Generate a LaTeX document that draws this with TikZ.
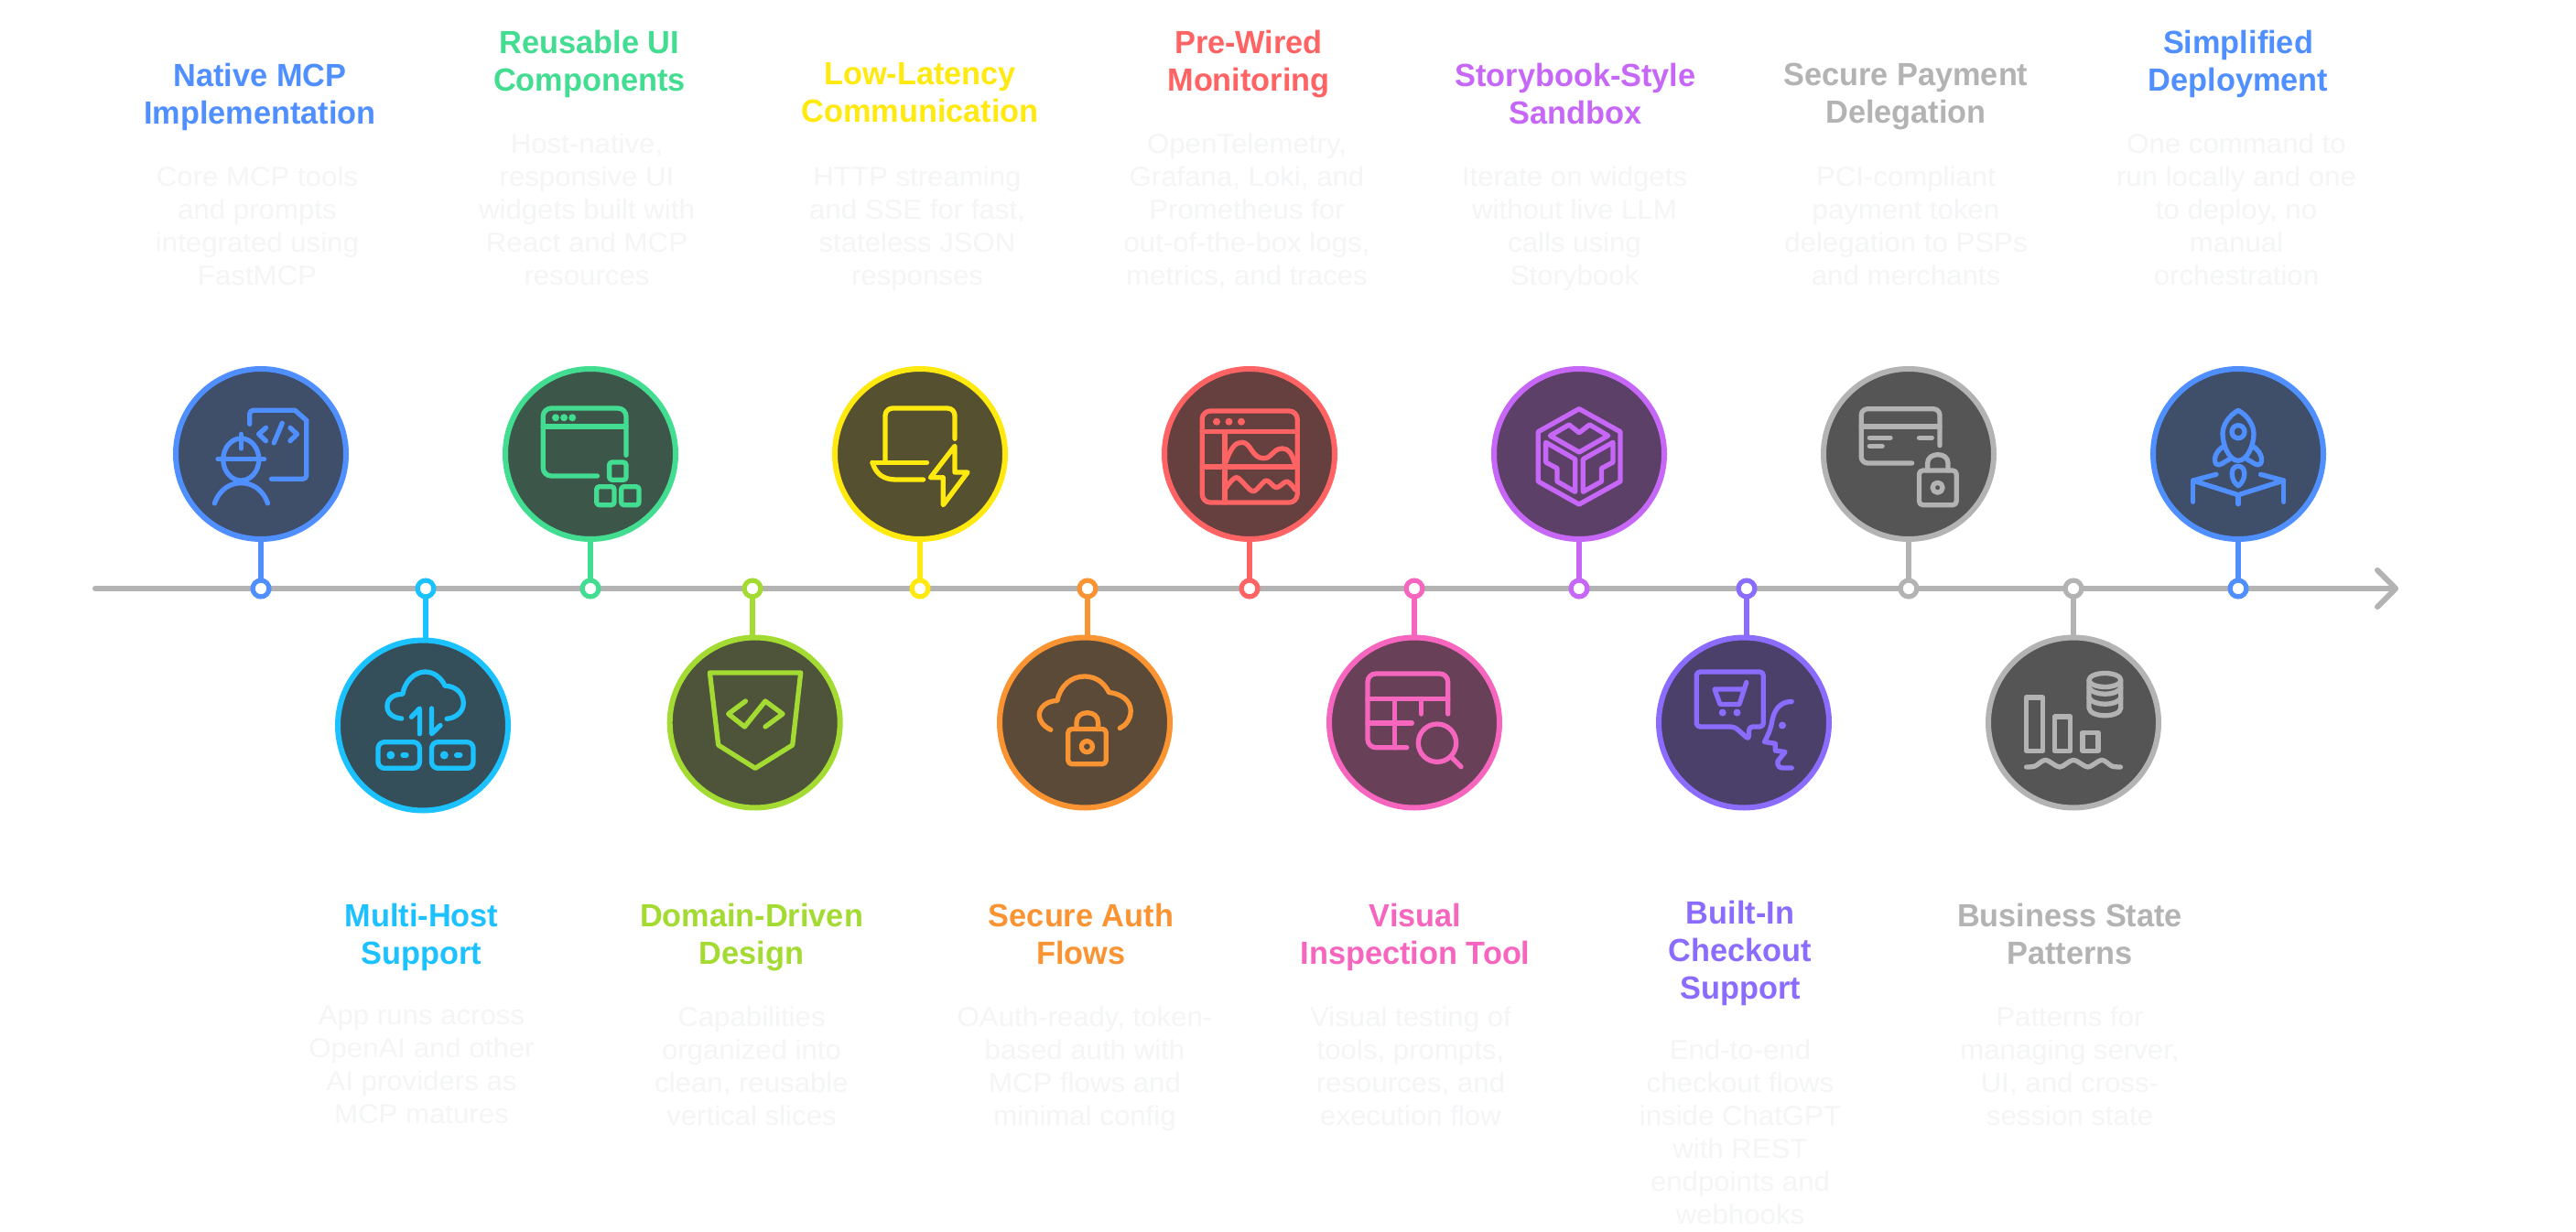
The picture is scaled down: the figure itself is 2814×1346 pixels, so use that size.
\documentclass[tikz,border=0pt]{standalone}
\usepackage{fontspec}
\setmainfont{Liberation Sans}
\newfontfamily\headfam{Liberation Sans}[FakeStretch=0.98]
\newfontfamily\bodyfam{Liberation Sans}[FakeStretch=1.04]
\usetikzlibrary{arrows.meta}
\definecolor{cBlue}{HTML}{4F8FFF}\definecolor{fBlue}{HTML}{3F4E69}
\definecolor{cCyan}{HTML}{1CC1FF}\definecolor{fCyan}{HTML}{344F5A}
\definecolor{cGreen}{HTML}{42DD91}\definecolor{fGreen}{HTML}{3C5749}
\definecolor{cLime}{HTML}{A4DB32}\definecolor{fLime}{HTML}{4E543A}
\definecolor{cYellow}{HTML}{FFE90F}\definecolor{fYellow}{HTML}{555030}
\definecolor{cOrange}{HTML}{FA9432}\definecolor{fOrange}{HTML}{5C4A38}
\definecolor{cRed}{HTML}{FF6363}\definecolor{fRed}{HTML}{663F3F}
\definecolor{cPink}{HTML}{F766BE}\definecolor{fPink}{HTML}{684058}
\definecolor{cPurple}{HTML}{C667F7}\definecolor{fPurple}{HTML}{5D4068}
\definecolor{cViolet}{HTML}{8B6CFF}\definecolor{fViolet}{HTML}{4B4069}
\definecolor{cGray}{HTML}{B3B3B3}\definecolor{fGray}{HTML}{555555}
\definecolor{cBody}{HTML}{F4F5F6}
\tikzset{
  hub/.style 2 args={circle,minimum size=186pt,inner sep=0pt,outer sep=0pt,line width=6pt,draw=#1,fill=#2},
  pin/.style={circle,minimum size=17.8pt,inner sep=0pt,outer sep=0pt,line width=5.2pt,draw=#1,fill=white},
  link/.style={line width=5.4pt,draw=#1},
  ico/.style={line width=5.3pt,line cap=round,line join=round,color=#1},
  headtext/.style={anchor=north,inner sep=0pt,outer sep=0pt,align=center,font=\headfam\fontsize{35}{41}\bfseries\selectfont,execute at begin node=\strut},
  bodytext/.style={anchor=north,inner sep=0pt,outer sep=0pt,align=center,text=cBody,font=\bodyfam\fontsize{30}{36}\selectfont,execute at begin node=\strut}
}
\newcommand{\ttl}[5]{\node[headtext,text=#2] (#1) at (#3,{#4-25.2}) {#5};}
\newcommand{\bod}[4]{\node[bodytext] (#1) at (#2,{#3-21.7}) {#4};}
\begin{document}
\begin{tikzpicture}[x=1pt,y=-1pt]
\path[use as bounding box,fill=white] (0,0) rectangle (2814,1346);
% spine
\coordinate (spineA) at (104,643);
\coordinate (spineB) at (2620,643);
\draw[line width=6pt,draw=cGray,line cap=round,-{Straight Barb[length=20pt,width=40pt,line width=6pt,round]}] (spineA) -- (spineB);
% pins
\node[pin=cBlue] (d1) at (285,643) {};
\node[pin=cCyan] (d2) at (465,643) {};
\node[pin=cGreen] (d3) at (645,643) {};
\node[pin=cLime] (d4) at (822,643) {};
\node[pin=cYellow] (d5) at (1005,643) {};
\node[pin=cOrange] (d6) at (1188,643) {};
\node[pin=cRed] (d7) at (1365,643) {};
\node[pin=cPink] (d8) at (1545,643) {};
\node[pin=cPurple] (d9) at (1725,643) {};
\node[pin=cViolet] (d10) at (1908,643) {};
\node[pin=cGray] (d11) at (2085,643) {};
\node[pin=cGray] (d12) at (2265,643) {};
\node[pin=cBlue] (d13) at (2445,643) {};
% hubs
\node[hub={cBlue}{fBlue}] (c1) at (285,496) {};
\node[hub={cCyan}{fCyan}] (c2) at (462,792.5) {};
\node[hub={cGreen}{fGreen}] (c3) at (645,496) {};
\node[hub={cLime}{fLime}] (c4) at (824.7,789.5) {};
\node[hub={cYellow}{fYellow}] (c5) at (1005,496) {};
\node[hub={cOrange}{fOrange}] (c6) at (1185,789.5) {};
\node[hub={cRed}{fRed}] (c7) at (1365,496) {};
\node[hub={cPink}{fPink}] (c8) at (1545,789.5) {};
\node[hub={cPurple}{fPurple}] (c9) at (1725,496) {};
\node[hub={cViolet}{fViolet}] (c10) at (1905,789.5) {};
\node[hub={cGray}{fGray}] (c11) at (2085,496) {};
\node[hub={cGray}{fGray}] (c12) at (2265,789.5) {};
\node[hub={cBlue}{fBlue}] (c13) at (2445,496) {};
% connectors
\draw[link=cBlue] (c1) -- (d1);
\draw[link=cCyan] (d2) -- (d2 |- c2.north);
\draw[link=cGreen] (c3) -- (d3);
\draw[link=cLime] (d4) -- (d4 |- c4.north);
\draw[link=cYellow] (c5) -- (d5);
\draw[link=cOrange] (d6) -- (d6 |- c6.north);
\draw[link=cRed] (c7) -- (d7);
\draw[link=cPink] (c8) -- (d8);
\draw[link=cPurple] (c9) -- (d9);
\draw[link=cViolet] (d10) -- (d10 |- c10.north);
\draw[link=cGray] (c11) -- (d11);
\draw[link=cGray] (c12) -- (d12);
\draw[link=cBlue] (c13) -- (d13);
% icon 1: engineer and code file
\begin{scope}[shift={(c1.center)},ico=cBlue]
\draw[rounded corners=4pt] (-12.3,-32.7) -- (-12.3,-47.7) -- (37.2,-47.7);
\draw (37.2,-47.7) -- (49.8,-36.7);
\draw[rounded corners=4pt] (49.8,-36.7) -- (49.8,27.3) -- (11.5,27.3);
\draw (5.5,-28.7) -- (-2.4,-21.7) -- (5.5,-14.3);
\draw (23.3,-33.7) -- (14.2,-12);
\draw (32,-28.7) -- (39.5,-21.7) -- (32,-14.3);
\draw (-21.7,6) ellipse [x radius=19.5pt,y radius=23pt];
\draw (-47,5.7) -- (3.6,5.7);
\draw (-21.7,-21.7) -- (-21.7,-6);
\draw (-50.6,54) .. controls (-45,38) and (-33,31.7) .. (-21.7,31.7) .. controls (-10,31.7) and (2,38) .. (7.5,54);
\end{scope}
% icon 2: cloud and hosts
\begin{scope}[shift={(c2.center)},ico=cCyan]
\draw (-23.3,-7.5) .. controls (-32,-8) and (-39.1,-13) .. (-39.1,-20.8) .. controls (-39.1,-29) and (-32,-34.2) .. (-22.1,-34.2) .. controls (-20,-48) and (-9,-58.5) .. (2.4,-58.5) .. controls (12,-58.5) and (20,-52) .. (24.1,-43.2) .. controls (36,-43) and (44.3,-35) .. (44.3,-24.2) .. controls (44.3,-15) and (36,-8) .. (26.1,-7.2);
\draw (-3.6,9.2) -- (-3.6,-18.5) -- (-12.6,-9.2);
\draw (9.5,-18.5) -- (9.5,9.2) -- (19,0);
\draw[rounded corners=7pt] (-49,18.2) rectangle (-3.6,46.8);
\draw[rounded corners=7pt] (9.5,18.2) rectangle (55,46.8);
\fill (-35.2,32.5) circle[radius=4.5pt];
\fill (23.3,32.5) circle[radius=4.5pt];
\draw (-22,32.5) -- (-18,32.5);
\draw (36.7,32.5) -- (40.7,32.5);
\end{scope}
% icon 3: window and blocks
\begin{scope}[shift={(c3.center)},ico=cGreen]
\draw[rounded corners=9pt] (39,1.3) -- (39,-50) -- (-51.8,-50) -- (-51.8,24) -- (7.5,24);
\draw (-51.8,-30) -- (39,-30);
\fill (-38,-39.7) circle[radius=4pt] (-28.9,-39.7) circle[radius=4pt] (-19.8,-39.7) circle[radius=4pt];
\draw[rounded corners=3pt] (20.6,9) rectangle (39,28.3);
\draw[rounded corners=3pt] (6.7,35.7) rectangle (26,55.7);
\draw[rounded corners=3pt] (33.6,35.7) rectangle (53,55.7);
\end{scope}
% icon 4: shield with code
\begin{scope}[shift={(c4.center)},ico=cLime]
\draw (-49.3,-54.5) -- (50,-54.5) -- (41,24.5) -- (0.3,49.8) -- (-40,24.5) -- cycle;
\draw (-10.3,-23.5) -- (-29,-9.5) -- (-11.3,4.5) -- (11.3,-23.5) -- (30.3,-9.5) -- (11.3,4.5);
\end{scope}
% icon 5: laptop and bolt
\begin{scope}[shift={(c5.center)},ico=cYellow]
\draw[rounded corners=8pt] (-38,7.3) -- (-38,-50) -- (38,-50) -- (38,-16.7);
\draw (-52,9.3) -- (7.5,9.3);
\draw (-52,9.3) .. controls (-48,22) and (-40,28) .. (-26,28) -- (3.6,28);
\draw (38,-8.7) -- (11.5,25.7) -- (25.3,25.7) -- (25.3,55.7) -- (52,20) -- (38,20) -- cycle;
\end{scope}
% icon 6: cloud and lock
\begin{scope}[shift={(c6.center)},ico=cOrange]
\draw (-37.2,7.8) .. controls (-45,4) and (-49.8,-2) .. (-49.8,-8.2) .. controls (-49.8,-17) and (-41,-24) .. (-30,-24) .. controls (-27,-40) and (-15,-50.5) .. (-0.4,-50.5) .. controls (12,-50.5) and (21,-44) .. (26.5,-33) .. controls (39,-32) and (50.2,-24) .. (50.2,-13) .. controls (50.2,-4) and (45,3) .. (38.3,6);
\draw[rounded corners=4pt] (-18.2,7) rectangle (23.3,45.2);
\draw (-9,7) -- (-9,0) .. controls (-9,-7) and (-4,-10.8) .. (2.8,-10.8) .. controls (9.5,-10.8) and (14.6,-7) .. (14.6,0) -- (14.6,7);
\draw (2.4,26.2) circle[radius=6pt];
\end{scope}
% icon 7: dashboard
\begin{scope}[shift={(c7.center)},ico=cRed]
\draw[rounded corners=9pt] (-51.8,-47) rectangle (52.2,53);
\draw (-51.8,-24.3) -- (52.2,-24.3);
\draw (-51.8,14) -- (52.2,14);
\draw (-26.9,-24.3) -- (-26.9,53);
\fill (-36,-35.3) circle[radius=4pt] (-22.5,-35.3) circle[radius=4pt] (-9,-35.3) circle[radius=4pt];
\draw (-26,9) .. controls (-20,-8) and (-15,-12.7) .. (-8.3,-12.7) .. controls (2,-12.7) and (2,4.7) .. (15.4,4.7) .. controls (25,4.7) and (25,-6) .. (36,-6) .. controls (43,-6) and (46,0) .. (49,9);
\draw plot[smooth] coordinates {(-26,37.3) (-14,25.7) (3.6,40.7) (18,29) (29.2,36.7) (41,30) (49.8,39)};
\end{scope}
% icon 8: table and magnifier
\begin{scope}[shift={(c8.center)},ico=cPink]
\draw[rounded corners=9pt] (36.7,-9.5) -- (36.7,-53.5) -- (-51,-53.5) -- (-51,27.2) -- (-8.3,27.2);
\draw (-51,-26) -- (36.7,-26);
\draw (-51,0.5) -- (-2.7,0.5);
\draw (-21.7,-26) -- (-21.7,27.2);
\draw (7.7,-26) -- (7.7,-9.5);
\draw (25,22.2) circle[radius=20.7pt];
\draw (41.7,38.8) -- (51,48.2);
\end{scope}
% icon 9: cube
\begin{scope}[shift={(c9.center)},ico=cPurple]
\draw (0,-49.3) -- (45,-24.3) -- (45,30) -- (0,55) -- (-44.7,30) -- (-44.7,-24.3) -- cycle;
\draw (0,-2) -- (31.6,-20) -- (11.5,-32) -- (0,-23.3) -- (-11,-32) -- (-31.6,-20) -- cycle;
\draw (-36.4,-12.7) -- (-4.3,5.7) -- (-4.3,41.3) -- (-24,30) -- (-24,15.7) -- (-36.4,9) -- cycle;
\draw (37,-12.7) -- (4.3,5.7) -- (4.3,41.3) -- (24.5,30) -- (24.5,15.7) -- (37,9) -- cycle;
\end{scope}
% icon 10: secure card
\begin{scope}[shift={(c11.center)},ico=cGray]
\draw[rounded corners=7pt] (34,-9.3) -- (34,-49.3) -- (-51.8,-49.3) -- (-51.8,10) -- (3.6,10);
\draw (-51.8,-30) -- (34,-30);
\draw (-42.7,-17.7) -- (-20,-17.7);
\draw (-42.7,-8.7) -- (-28.9,-8.7);
\draw (11.5,-17.7) -- (25.3,-17.7);
\draw[rounded corners=4pt] (11.5,18) rectangle (52.2,55.7);
\draw (20.6,18) -- (20.6,10) .. controls (20.6,4) and (26,0.7) .. (32,0.7) .. controls (38,0.7) and (43,4) .. (43,10) -- (43,18);
\draw (31.6,36.7) circle[radius=5.5pt];
\end{scope}
% icon 11: cart in speech bubble
\begin{scope}[shift={(c10.center)},ico=cViolet]
\draw[rounded corners=4pt] (-10.3,4.5) -- (-51.8,4.5) -- (-51.8,-55.5) -- (21.3,-55.5) -- (21.3,4.5) -- (5.5,4.5) -- (5.5,18.5) -- cycle;
\draw (2.8,-44) -- (-5,-20) -- (-26,-20) -- (-32,-36.5) -- (-0.4,-36.5);
\fill (-23.3,-11) circle[radius=4pt] (-7.5,-11) circle[radius=4pt] (42,3) circle[radius=4pt];
\draw (52.2,-23) .. controls (38,-23) and (33,-12) .. (31,-3) .. controls (30,6) and (26,14) .. (22.5,21) -- (34.3,22.8) -- (34.3,30.5) -- (45,32) -- (37,42) .. controls (36,47) and (39,49.5) .. (42,49.5) -- (52.2,49.5);
\end{scope}
% icon 12: bars and database
\begin{scope}[shift={(c12.center)},ico=cGray]
\draw (-51.4,-27.5) rectangle (-33.6,30.8);
\draw (-20.6,-6.5) rectangle (-3.2,30.8);
\draw (9.9,10.8) rectangle (26.9,30.8);
\draw (34.4,-46.5) ellipse [x radius=17.4pt,y radius=7.5pt];
\draw (17,-46.5) -- (17,-16) .. controls (18,-5) and (51,-5) .. (51.8,-16) -- (51.8,-46.5);
\draw (17,-38) .. controls (22,-29) and (47,-29) .. (51.8,-38);
\draw (17,-27) .. controls (22,-18) and (47,-18) .. (51.8,-27);
\draw plot[smooth] coordinates {(-51.4,48.5) (-42,47.5) (-30.4,40.8) (-15,48.5) (0,40.8) (15.8,48.5) (30.8,40.8) (42,47.5) (51.4,48.5)};
\end{scope}
% icon 13: rocket
\begin{scope}[shift={(c13.center)},ico=cBlue]
\draw (0,-47.7) .. controls (-10,-42) and (-17,-32) .. (-17,-22) .. controls (-17,-10) and (-10,7.3) .. (0,7.3) .. controls (10,7.3) and (17,-10) .. (17,-22) .. controls (17,-32) and (10,-42) .. cycle;
\draw (0,-24.3) circle[radius=7pt];
\draw (-15.4,-8.7) .. controls (-24,-4) and (-28,6) .. (-24,11) .. controls (-20,14) and (-15,8) .. (-9.5,5.7);
\draw (15.4,-8.7) .. controls (24,-4) and (28,6) .. (24,11) .. controls (20,14) and (15,8) .. (9.5,5.7);
\draw (0,13.3) .. controls (-10,13.3) and (-8,30) .. (0,34.7) .. controls (8,30) and (10,13.3) .. (0,13.3);
\draw (-24,22.3) -- (-49.6,29) -- (0,44.7) -- (49.8,29) -- (24.5,22.3);
\draw (-49.6,29) -- (-49.6,52.3);
\draw (49.8,29) -- (49.8,52.3);
\draw (0,44.7) -- (0,54.7);
\end{scope}
% titles and descriptions, top row
\ttl{t1}{cBlue}{284}{94}{Native MCP\\Implementation}
\bod{b1}{281}{203}{Core MCP tools\\and prompts\\integrated using\\FastMCP}
\ttl{t3}{cGreen}{644}{58}{Reusable UI\\Components}
\bod{b3}{641}{167}{Host-native,\\responsive UI\\widgets built with\\React and MCP\\resources}
\ttl{t5}{cYellow}{1005}{94}{Low-Latency\\Communication}
\bod{b5}{1002}{203}{HTTP streaming\\and SSE for fast,\\stateless JSON\\responses}
\ttl{t7}{cRed}{1364}{58}{Pre-Wired\\Monitoring}
\bod{b7}{1362}{167}{OpenTelemetry,\\Grafana, Loki, and\\Prometheus for\\out-of-the-box logs,\\metrics, and traces}
\ttl{t9}{cPurple}{1721}{94}{Storybook-Style\\Sandbox}
\bod{b9}{1720}{203}{Iterate on widgets\\without live LLM\\calls using\\Storybook}
\ttl{t11}{cGray}{2082}{94}{Secure Payment\\Delegation}
\bod{b11}{2082}{203}{PCI-compliant\\payment token\\delegation to PSPs\\and merchants}
\ttl{t13}{cBlue}{2445}{58}{Simplified\\Deployment}
\bod{b13}{2443}{167}{One command to\\run locally and one\\to deploy, no\\manual\\orchestration}
% titles and descriptions, bottom row
\ttl{t2}{cCyan}{460.5}{1012}{Multi-Host\\Support}
\bod{b2}{460.5}{1121}{App runs across\\OpenAI and other\\AI providers as\\MCP matures}
\ttl{t4}{cLime}{821}{1012}{Domain-Driven\\Design}
\bod{b4}{821}{1121}{Capabilities\\organized into\\clean, reusable\\vertical slices}
\ttl{t6}{cOrange}{1181}{1012}{Secure Auth\\Flows}
\bod{b6}{1185}{1121}{OAuth-ready, token-\\based auth with\\MCP flows and\\minimal config}
\ttl{t8}{cPink}{1546}{1012}{Visual\\Inspection Tool}
\bod{b8}{1541}{1121}{Visual testing of\\tools, prompts,\\resources, and\\execution flow}
\ttl{t10}{cViolet}{1901}{1009}{Built-In\\Checkout\\Support}
\bod{b10}{1901}{1157}{End-to-end\\checkout flows\\inside ChatGPT\\with REST\\endpoints and\\webhooks}
\ttl{t12}{cGray}{2261}{1012}{Business State\\Patterns}
\bod{b12}{2261}{1121}{Patterns for\\managing server,\\UI, and cross-\\session state}
\end{tikzpicture}
\end{document}
